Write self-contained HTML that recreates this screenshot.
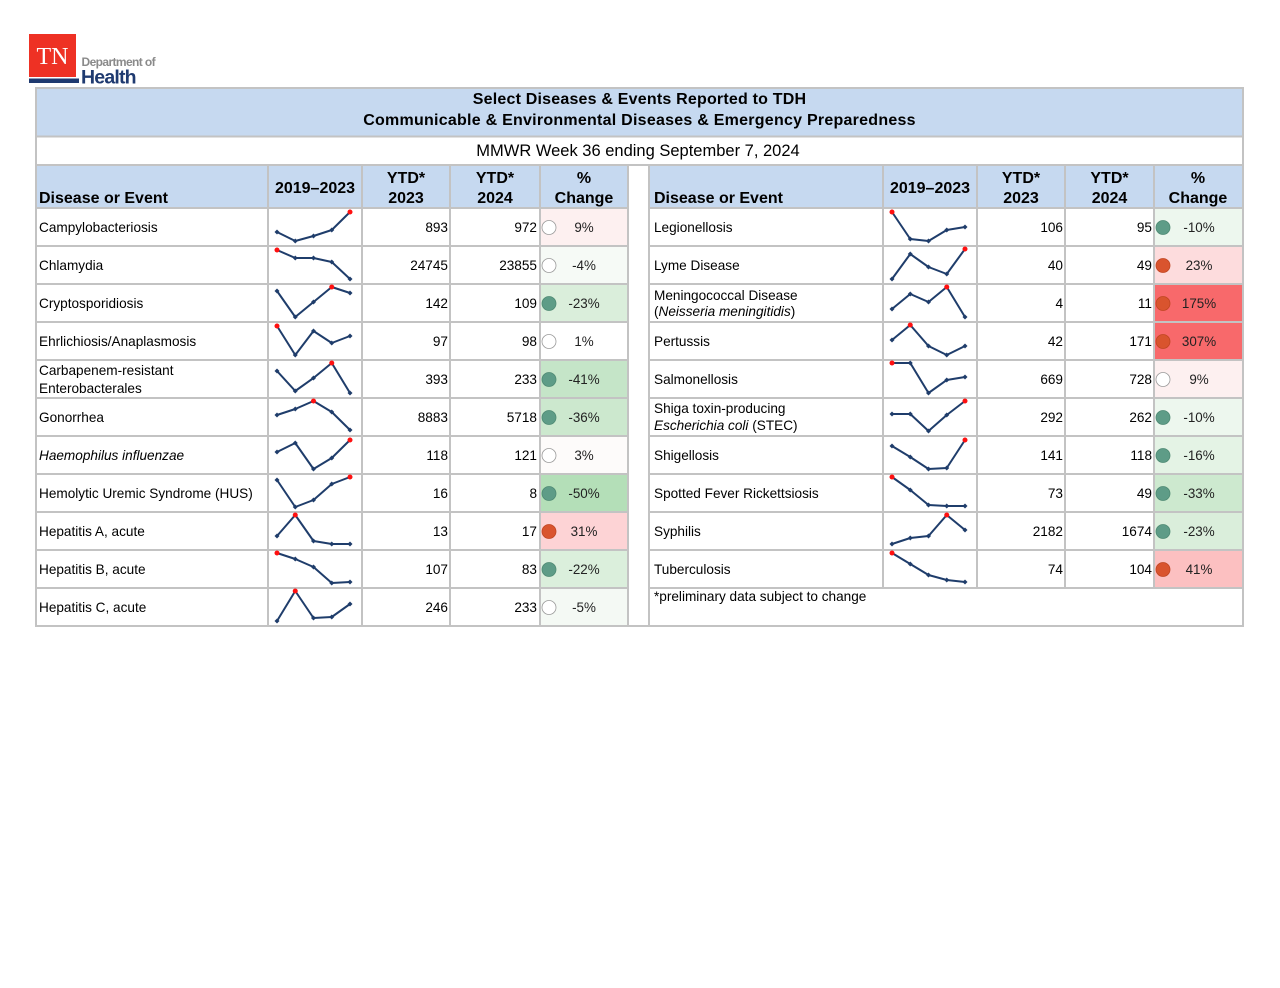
<!DOCTYPE html>
<html>
<head>
<meta charset="utf-8">
<style>
html,body{margin:0;padding:0;background:#fff;}
svg{display:block;}
text{font-family:"Liberation Sans",Arial,sans-serif;}
.t{font-size:13.6px;fill:#000;}
.n{font-size:13.6px;fill:#000;text-anchor:end;}
.p{font-size:13.4px;fill:#222;text-anchor:middle;}
.h{font-size:16px;font-weight:bold;fill:#000;}
.hc{font-size:16px;font-weight:bold;fill:#000;text-anchor:middle;}
.sp{fill:none;stroke:#1f3d6b;stroke-width:2;stroke-linejoin:round;marker-start:url(#d);marker-mid:url(#d);marker-end:url(#d);}
.r{fill:#ff1010;}
.cg{fill:#5e9c87;stroke:#4f8a74;stroke-width:0.8;}
.cr{fill:#d9542e;stroke:#c04622;stroke-width:0.8;}
.cw{fill:#fff;stroke:#9a9a9a;stroke-width:0.8;}
.g{stroke:#c3c3c3;stroke-width:2;fill:none;}
</style>
</head>
<body>
<svg width="1280" height="988" viewBox="0 0 1280 988" xmlns="http://www.w3.org/2000/svg">
<defs>
<marker id="d" markerUnits="userSpaceOnUse" markerWidth="6" markerHeight="6" refX="3" refY="3" viewBox="0 0 6 6">
<path d="M3 0.5 L5.5 3 L3 5.5 L0.5 3 Z" fill="#1f3d6b"/>
</marker>
</defs>
<rect x="0" y="0" width="1280" height="988" fill="#fff"/>

<!-- Logo -->
<rect x="29" y="34" width="47" height="43" fill="#ee3124"/>
<rect x="29" y="78.5" width="50" height="4.5" fill="#1f3a70"/>
<text x="52.5" y="64" text-anchor="middle" style="font-family:'Liberation Serif',serif;font-size:24px;fill:#fff;">TN</text>
<text x="81.5" y="66" style="font-size:12px;font-weight:bold;fill:#8a8a8a;letter-spacing:-0.6px;">Department of</text>
<text x="81" y="83.5" style="font-size:19.5px;font-weight:bold;fill:#1f3a70;letter-spacing:-0.8px;">Health</text>

<!-- fills -->
<rect x="36" y="88" width="1207" height="48" fill="#c6d9f0"/>
<rect x="36" y="165" width="592" height="43" fill="#c6d9f0"/>
<rect x="649" y="165" width="594" height="43" fill="#c6d9f0"/>

<!-- % change fills left -->
<rect x="541" y="209" width="86" height="36" fill="#fdf0f0"/>
<rect x="541" y="247" width="86" height="36" fill="#f6faf6"/>
<rect x="541" y="285" width="86" height="36" fill="#daeedb"/>
<rect x="541" y="323" width="86" height="36" fill="#ffffff"/>
<rect x="541" y="361" width="86" height="36" fill="#c5e5c8"/>
<rect x="541" y="399" width="86" height="36" fill="#cce8ce"/>
<rect x="541" y="437" width="86" height="36" fill="#fdfbfa"/>
<rect x="541" y="475" width="86" height="36" fill="#b4dfb8"/>
<rect x="541" y="513" width="86" height="36" fill="#fdd3d5"/>
<rect x="541" y="551" width="86" height="36" fill="#dbefdc"/>
<rect x="541" y="589" width="86" height="36" fill="#f4f9f4"/>
<!-- % change fills right -->
<rect x="1155" y="209" width="87" height="36" fill="#edf7ee"/>
<rect x="1155" y="247" width="87" height="36" fill="#fddcdd"/>
<rect x="1155" y="285" width="87" height="36" fill="#f8696b"/>
<rect x="1155" y="323" width="87" height="36" fill="#f8696b"/>
<rect x="1155" y="361" width="87" height="36" fill="#fdf0f0"/>
<rect x="1155" y="399" width="87" height="36" fill="#edf7ee"/>
<rect x="1155" y="437" width="87" height="36" fill="#e4f3e5"/>
<rect x="1155" y="475" width="87" height="36" fill="#cde9cf"/>
<rect x="1155" y="513" width="87" height="36" fill="#daeedb"/>
<rect x="1155" y="551" width="87" height="36" fill="#fcc0c1"/>

<!-- grid -->
<rect class="g" x="36" y="88" width="1207" height="538"/>
<path class="g" d="M36 136.5H1243 M36 165H1243
M36 208H628 M36 246H628 M36 284H628 M36 322H628 M36 360H628 M36 398H628 M36 436H628 M36 474H628 M36 512H628 M36 550H628 M36 588H628
M649 208H1243 M649 246H1243 M649 284H1243 M649 322H1243 M649 360H1243 M649 398H1243 M649 436H1243 M649 474H1243 M649 512H1243 M649 550H1243 M649 588H1243
M268 165V626 M362 165V626 M450 165V626 M540 165V626 M628 165V626
M649 165V626 M883 165V588 M977 165V588 M1065 165V588 M1154 165V588"/>

<!-- titles -->
<text x="639.5" y="104" class="hc" style="letter-spacing:0.2px;">Select Diseases &amp; Events Reported to TDH</text>
<text x="639.5" y="125" class="hc" style="letter-spacing:0.25px;">Communicable &amp; Environmental Diseases &amp; Emergency Preparedness</text>
<text x="638" y="156" text-anchor="middle" style="font-size:16.5px;fill:#000;">MMWR Week 36 ending September 7, 2024</text>

<!-- headers left -->
<text x="39" y="203" class="h">Disease or Event</text>
<text x="315" y="193" class="hc">2019–2023</text>
<text x="406" y="183" class="hc">YTD*</text>
<text x="406" y="203" class="hc">2023</text>
<text x="495" y="183" class="hc">YTD*</text>
<text x="495" y="203" class="hc">2024</text>
<text x="584" y="183" class="hc">%</text>
<text x="584" y="203" class="hc">Change</text>
<!-- headers right -->
<text x="654" y="203" class="h">Disease or Event</text>
<text x="930" y="193" class="hc">2019–2023</text>
<text x="1021" y="183" class="hc">YTD*</text>
<text x="1021" y="203" class="hc">2023</text>
<text x="1109.5" y="183" class="hc">YTD*</text>
<text x="1109.5" y="203" class="hc">2024</text>
<text x="1198" y="183" class="hc">%</text>
<text x="1198" y="203" class="hc">Change</text>

<!-- left names -->
<text x="39" y="232" class="t">Campylobacteriosis</text>
<text x="39" y="270" class="t">Chlamydia</text>
<text x="39" y="308" class="t">Cryptosporidiosis</text>
<text x="39" y="346" class="t">Ehrlichiosis/Anaplasmosis</text>
<text x="39" y="375" class="t">Carbapenem-resistant</text>
<text x="39" y="393" class="t">Enterobacterales</text>
<text x="39" y="422" class="t">Gonorrhea</text>
<text x="39" y="460" class="t" font-style="italic">Haemophilus influenzae</text>
<text x="39" y="498" class="t">Hemolytic Uremic Syndrome (HUS)</text>
<text x="39" y="536" class="t">Hepatitis A, acute</text>
<text x="39" y="574" class="t">Hepatitis B, acute</text>
<text x="39" y="612" class="t">Hepatitis C, acute</text>

<!-- left numbers -->
<text x="448" y="232" class="n">893</text><text x="537" y="232" class="n">972</text>
<text x="448" y="270" class="n">24745</text><text x="537" y="270" class="n">23855</text>
<text x="448" y="308" class="n">142</text><text x="537" y="308" class="n">109</text>
<text x="448" y="346" class="n">97</text><text x="537" y="346" class="n">98</text>
<text x="448" y="384" class="n">393</text><text x="537" y="384" class="n">233</text>
<text x="448" y="422" class="n">8883</text><text x="537" y="422" class="n">5718</text>
<text x="448" y="460" class="n">118</text><text x="537" y="460" class="n">121</text>
<text x="448" y="498" class="n">16</text><text x="537" y="498" class="n">8</text>
<text x="448" y="536" class="n">13</text><text x="537" y="536" class="n">17</text>
<text x="448" y="574" class="n">107</text><text x="537" y="574" class="n">83</text>
<text x="448" y="612" class="n">246</text><text x="537" y="612" class="n">233</text>

<!-- left circles -->
<circle cx="549" cy="227.5" r="7" class="cw"/>
<circle cx="549" cy="265.5" r="7" class="cw"/>
<circle cx="549" cy="303.5" r="7" class="cg"/>
<circle cx="549" cy="341.5" r="7" class="cw"/>
<circle cx="549" cy="379.5" r="7" class="cg"/>
<circle cx="549" cy="417.5" r="7" class="cg"/>
<circle cx="549" cy="455.5" r="7" class="cw"/>
<circle cx="549" cy="493.5" r="7" class="cg"/>
<circle cx="549" cy="531.5" r="7" class="cr"/>
<circle cx="549" cy="569.5" r="7" class="cg"/>
<circle cx="549" cy="607.5" r="7" class="cw"/>

<!-- left pct -->
<text x="584" y="232" class="p">9%</text>
<text x="584" y="270" class="p">-4%</text>
<text x="584" y="308" class="p">-23%</text>
<text x="584" y="346" class="p">1%</text>
<text x="584" y="384" class="p">-41%</text>
<text x="584" y="422" class="p">-36%</text>
<text x="584" y="460" class="p">3%</text>
<text x="584" y="498" class="p">-50%</text>
<text x="584" y="536" class="p">31%</text>
<text x="584" y="574" class="p">-22%</text>
<text x="584" y="612" class="p">-5%</text>

<!-- left sparklines -->
<polyline class="sp" points="277,232 295.25,241 313.5,236 331.75,230 350,212"/>
<polyline class="sp" points="277,250 295.25,258 313.5,258 331.75,262 350,279"/>
<polyline class="sp" points="277,291 295.25,317 313.5,302 331.75,287 350,293"/>
<polyline class="sp" points="277,326 295.25,355 313.5,331 331.75,343 350,336"/>
<polyline class="sp" points="277,371 295.25,391 313.5,378 331.75,363 350,393"/>
<polyline class="sp" points="277,415 295.25,409 313.5,401 331.75,412 350,430"/>
<polyline class="sp" points="277,452 295.25,443 313.5,469 331.75,458 350,440"/>
<polyline class="sp" points="277,480 295.25,507 313.5,500 331.75,484 350,477"/>
<polyline class="sp" points="277,536 295.25,515 313.5,541 331.75,544 350,544"/>
<polyline class="sp" points="277,553 295.25,559 313.5,567 331.75,583 350,582"/>
<polyline class="sp" points="277,621 295.25,591 313.5,618 331.75,617 350,604"/>
<circle class="r" cx="350" cy="212" r="2.5"/>
<circle class="r" cx="277" cy="250" r="2.5"/>
<circle class="r" cx="331.75" cy="287" r="2.5"/>
<circle class="r" cx="277" cy="326" r="2.5"/>
<circle class="r" cx="331.75" cy="363" r="2.5"/>
<circle class="r" cx="313.5" cy="401" r="2.5"/>
<circle class="r" cx="350" cy="440" r="2.5"/>
<circle class="r" cx="350" cy="477" r="2.5"/>
<circle class="r" cx="295.25" cy="515" r="2.5"/>
<circle class="r" cx="277" cy="553" r="2.5"/>
<circle class="r" cx="295.25" cy="591" r="2.5"/>

<!-- right names -->
<text x="654" y="232" class="t">Legionellosis</text>
<text x="654" y="270" class="t">Lyme Disease</text>
<text x="654" y="300" class="t">Meningococcal Disease</text>
<text x="654" y="316" class="t">(<tspan font-style="italic">Neisseria meningitidis</tspan>)</text>
<text x="654" y="346" class="t">Pertussis</text>
<text x="654" y="384" class="t">Salmonellosis</text>
<text x="654" y="413" class="t">Shiga toxin-producing</text>
<text x="654" y="430" class="t"><tspan font-style="italic">Escherichia coli</tspan>  (STEC)</text>
<text x="654" y="460" class="t">Shigellosis</text>
<text x="654" y="498" class="t">Spotted Fever Rickettsiosis</text>
<text x="654" y="536" class="t">Syphilis</text>
<text x="654" y="574" class="t">Tuberculosis</text>
<text x="654" y="601" class="t">*preliminary data subject to change</text>

<!-- right numbers -->
<text x="1063" y="232" class="n">106</text><text x="1152" y="232" class="n">95</text>
<text x="1063" y="270" class="n">40</text><text x="1152" y="270" class="n">49</text>
<text x="1063" y="308" class="n">4</text><text x="1152" y="308" class="n">11</text>
<text x="1063" y="346" class="n">42</text><text x="1152" y="346" class="n">171</text>
<text x="1063" y="384" class="n">669</text><text x="1152" y="384" class="n">728</text>
<text x="1063" y="422" class="n">292</text><text x="1152" y="422" class="n">262</text>
<text x="1063" y="460" class="n">141</text><text x="1152" y="460" class="n">118</text>
<text x="1063" y="498" class="n">73</text><text x="1152" y="498" class="n">49</text>
<text x="1063" y="536" class="n">2182</text><text x="1152" y="536" class="n">1674</text>
<text x="1063" y="574" class="n">74</text><text x="1152" y="574" class="n">104</text>

<!-- right circles -->
<circle cx="1163" cy="227.5" r="7" class="cg"/>
<circle cx="1163" cy="265.5" r="7" class="cr"/>
<circle cx="1163" cy="303.5" r="7" class="cr"/>
<circle cx="1163" cy="341.5" r="7" class="cr"/>
<circle cx="1163" cy="379.5" r="7" class="cw"/>
<circle cx="1163" cy="417.5" r="7" class="cg"/>
<circle cx="1163" cy="455.5" r="7" class="cg"/>
<circle cx="1163" cy="493.5" r="7" class="cg"/>
<circle cx="1163" cy="531.5" r="7" class="cg"/>
<circle cx="1163" cy="569.5" r="7" class="cr"/>

<!-- right pct -->
<text x="1199" y="232" class="p">-10%</text>
<text x="1199" y="270" class="p">23%</text>
<text x="1199" y="308" class="p">175%</text>
<text x="1199" y="346" class="p">307%</text>
<text x="1199" y="384" class="p">9%</text>
<text x="1199" y="422" class="p">-10%</text>
<text x="1199" y="460" class="p">-16%</text>
<text x="1199" y="498" class="p">-33%</text>
<text x="1199" y="536" class="p">-23%</text>
<text x="1199" y="574" class="p">41%</text>

<!-- right sparklines -->
<polyline class="sp" points="892,212 910.25,239 928.5,241 946.75,230 965,227"/>
<polyline class="sp" points="892,279 910.25,254 928.5,267 946.75,274 965,249"/>
<polyline class="sp" points="892,309 910.25,294 928.5,302 946.75,287 965,317"/>
<polyline class="sp" points="892,340 910.25,325 928.5,346 946.75,355 965,346"/>
<polyline class="sp" points="892,363 910.25,363 928.5,393 946.75,380 965,377"/>
<polyline class="sp" points="892,414 910.25,414 928.5,431 946.75,415 965,401"/>
<polyline class="sp" points="892,446 910.25,457 928.5,469 946.75,468 965,440"/>
<polyline class="sp" points="892,477 910.25,490 928.5,505 946.75,506 965,506"/>
<polyline class="sp" points="892,544 910.25,538 928.5,536 946.75,515 965,530"/>
<polyline class="sp" points="892,553 910.25,564 928.5,575 946.75,580 965,582"/>
<circle class="r" cx="892" cy="212" r="2.5"/>
<circle class="r" cx="965" cy="249" r="2.5"/>
<circle class="r" cx="946.75" cy="287" r="2.5"/>
<circle class="r" cx="910.25" cy="325" r="2.5"/>
<circle class="r" cx="892" cy="363" r="2.5"/>
<circle class="r" cx="965" cy="401" r="2.5"/>
<circle class="r" cx="965" cy="440" r="2.5"/>
<circle class="r" cx="892" cy="477" r="2.5"/>
<circle class="r" cx="946.75" cy="515" r="2.5"/>
<circle class="r" cx="892" cy="553" r="2.5"/>
</svg>
</body>
</html>
